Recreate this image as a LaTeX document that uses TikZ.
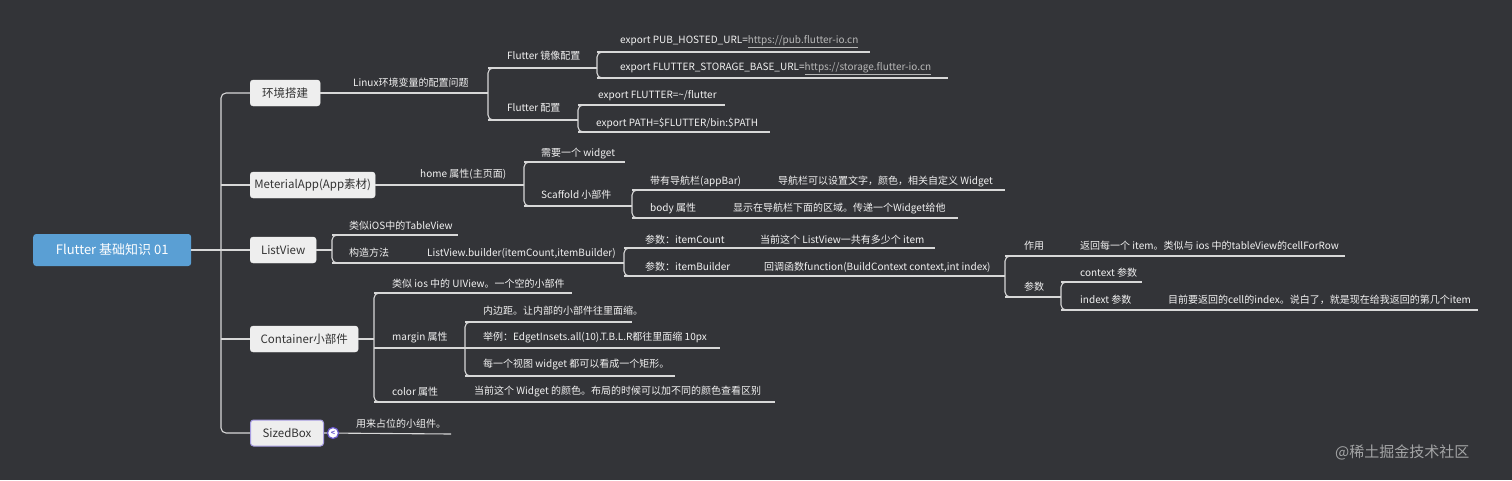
\documentclass[tikz,border=0pt]{standalone}
\usepackage{fontspec}
\setmainfont{Noto Sans CJK SC}
\definecolor{bg}{HTML}{333438}
\definecolor{ln}{HTML}{D8D8D8}
\definecolor{tx}{HTML}{F2F2F2}
\definecolor{rootc}{HTML}{5A9FD4}
\definecolor{boxc}{HTML}{EEEEEE}
\definecolor{purp}{HTML}{6A5ACD}
\definecolor{urlc}{HTML}{B8B8B8}
\tikzset{
  lbl/.style={anchor=west,inner sep=0pt,text=tx,font=\fontsize{10}{12}\selectfont},
  topic/.style={draw=boxc,fill=boxc,rounded corners=3pt,text=black!80,font=\fontsize{11.5}{13}\selectfont,minimum height=26pt,inner xsep=0pt,anchor=west},
  con/.style={ln,line width=1.1pt},
  brk/.style={ln,line width=1.1pt,rounded corners=5pt}
}
\newcommand{\lb}[4]{\node[lbl] (#1) at (#2,#3) {#4};}
\newcommand{\ul}[3]{\draw[con] (#1,#3) -- (#2,#3);}
\newcommand{\bk}[3]{\draw[brk] (#1+12,#2) -- (#1,#2) -- (#1,#3) -- (#1+12,#3);}
\begin{document}
\begin{tikzpicture}[x=1pt,y=-1pt]
\fill[bg] (0,0) rectangle (1512,480);
\useasboundingbox (0,0) rectangle (1512,480);
% root
\node[fill=rootc,rounded corners=3pt,text=white,minimum width=158pt,minimum height=32pt,font=\fontsize{13}{15}\selectfont,anchor=west] (root) at (33,250) {Flutter 基础知识 01};
% topics
\node[topic,minimum width=70pt] (t1) at (250,93) {环境搭建};
\node[topic,minimum width=125pt] (t2) at (250,185) {MeterialApp(App素材)};
\node[topic,minimum width=66pt] (t3) at (250,250) {ListView};
\node[topic,minimum width=108pt] (t4) at (250,339) {Container小部件};
\node[topic,minimum width=73pt,draw=purp!60,line width=1pt] (t5) at (250,433) {SizedBox};
% trunk
\draw[con] (root.east) -- (t3.west);
\draw[brk] (t1.west) -- (221,93) -- (221,433) -- (t5.west);
\draw[con] (221,185) -- (t2.west);
\draw[con] (221,339) -- (t4.west);
% 环境搭建
\draw[con] (t1.east) -- (488,93);
\lb{a1}{353}{83}{Linux环境变量的配置问题}
\bk{488}{68}{120}
\ul{488}{597}{68} \lb{a2}{507}{56}{Flutter 镜像配置}
\ul{488}{578}{120} \lb{a3}{507}{108}{Flutter 配置}
\bk{597}{52}{78}
\ul{597}{870}{52} \lb{a4}{620}{42}{export PUB\_HOSTED\_URL=\textcolor{urlc}{\underline{https://pub.flutter-io.cn}}}
\ul{597}{948}{78} \lb{a5}{620}{69}{export FLUTTER\_STORAGE\_BASE\_URL=\textcolor{urlc}{\underline{https://storage.flutter-io.cn}}}
\bk{578}{105}{132}
\ul{578}{725}{105} \lb{a6}{598}{96}{export FLUTTER=\textasciitilde/flutter}
\ul{578}{770}{132} \lb{a7}{596}{123}{export PATH=\$FLUTTER/bin:\$PATH}
% MeterialApp
\draw[con] (t2.east) -- (524,185);
\lb{b1}{420}{174}{home 属性(主页面)}
\bk{524}{162}{206}
\ul{524}{625}{162} \lb{b2}{541}{154}{需要一个 widget}
\ul{524}{632}{206} \lb{b3}{541}{195}{Scaffold 小部件}
\bk{632}{190}{218}
\ul{632}{1005}{190} \lb{b4}{650}{181}{带有导航栏(appBar)} \lb{b5}{778}{181}{导航栏可以设置文字，颜色，相关自定义 Widget}
\ul{632}{958}{218} \lb{b6}{650}{208}{body 属性} \lb{b7}{733}{208}{显示在导航栏下面的区域。传递一个Widget给他}
% ListView
\draw[con] (t3.east) -- (332,250);
\bk{332}{235}{263}
\ul{332}{458}{235} \lb{c1}{349}{226}{类似iOS中的TableView}
\ul{332}{624}{263} \lb{c2}{349}{253}{构造方法} \lb{c3}{427}{253}{ListView.builder(itemCount,itemBuilder)}
\bk{624}{248}{276}
\ul{624}{935}{248} \lb{c4}{645}{240}{参数：itemCount} \lb{c5}{760}{240}{当前这个 ListView一共有多少个 item}
\ul{624}{1005}{276} \lb{c6}{645}{267}{参数：itemBuilder} \lb{c7}{764}{267}{回调函数function(BuildContext context,int index)}
\bk{1005}{256}{297}
\ul{1005}{1345}{256} \lb{c8}{1024}{246}{作用} \lb{c9}{1080}{246}{返回每一个 item。类似与 ios 中的tableView的cellForRow}
\ul{1005}{1061}{297} \lb{c10}{1024}{287}{参数}
\bk{1061}{282}{310}
\ul{1061}{1142}{282} \lb{c11}{1080}{273}{context 参数}
\ul{1061}{1478}{310} \lb{c12}{1080}{300}{indext 参数} \lb{c13}{1168}{300}{目前要返回的cell的index。说白了，就是现在给我返回的第几个item}
% Container
\draw[con] (t4.east) -- (374,339);
\bk{374}{293}{402}
\ul{374}{572}{293} \lb{d1}{392}{284}{类似 ios 中的 UIView。一个空的小部件}
\ul{374}{465}{348} \lb{d2}{392}{338}{margin 属性}
\ul{374}{775}{402} \lb{d3}{392}{392}{color 属性} \lb{d4}{474}{392}{当前这个 Widget 的颜色。布局的时候可以加不同的颜色查看区别}
\bk{465}{322}{376}
\ul{465}{632}{322} \lb{d5}{483}{311}{内边距。让内部的小部件往里面缩。}
\ul{465}{720}{348} \lb{d6}{483}{338}{举例：EdgetInsets.all(10).T.B.L.R都往里面缩 10px}
\ul{465}{675}{376} \lb{d7}{483}{365}{每一个视图 widget 都可以看成一个矩形。}
% SizedBox
\coordinate (e0) at (451,434);
\draw[con] (t5.east) -- (e0);
\lb{e1}{356}{424}{用来占位的小组件。}
\node[circle,fill=white,draw=purp,line width=1.2pt,minimum size=11pt,inner sep=0pt,text=purp,font=\bfseries\fontsize{7}{7}\selectfont] (col) at (333,433) {<};
% watermark
\node[anchor=west,text=white!55!bg,font=\fontsize{15}{17}\selectfont,inner sep=0pt] (wm) at (1335,452) {@稀土掘金技术社区};
\end{tikzpicture}
\end{document}
